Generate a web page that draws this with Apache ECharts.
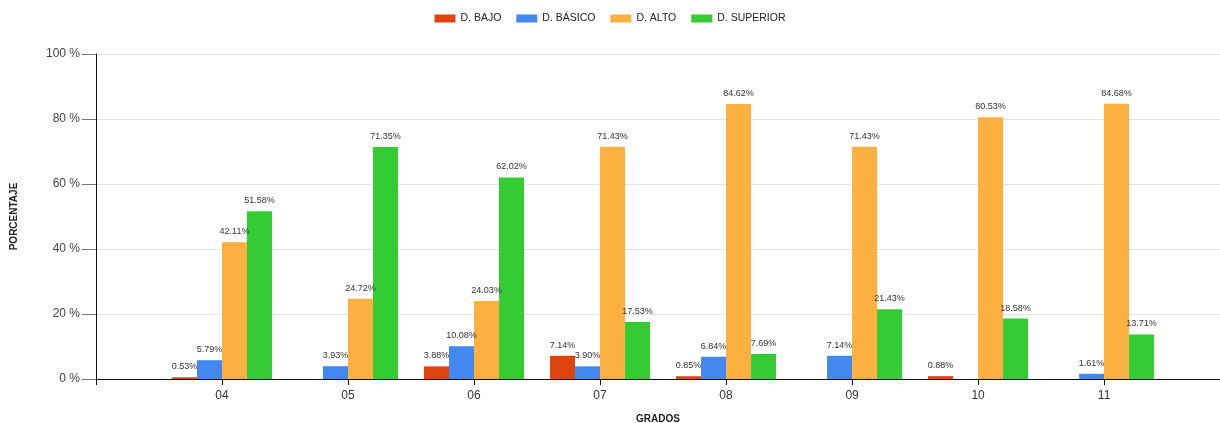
<!DOCTYPE html>
<html><head><meta charset="utf-8">
<script src="https://cdn.jsdelivr.net/npm/echarts@6/dist/echarts.min.js"></script>
<style>html,body{margin:0;padding:0;background:#fff}#c{width:1220px;height:423px}</style>
</head><body><div id="c"></div>
<script>
var categories = ['04','05','06','07','08','09','10','11'];
var seriesNames = ['D. BAJO','D. BÁSICO','D. ALTO','D. SUPERIOR'];
var bajo     = [0.53, null, 3.88, 7.14, 0.85, null, 0.88, null];
var basico   = [5.79, 3.93, 10.08, 3.90, 6.84, 7.14, null, 1.61];
var alto     = [42.11, 24.72, 24.03, 71.43, 84.62, 71.43, 80.53, 84.68];
var superior = [51.58, 71.35, 62.02, 17.53, 7.69, 21.43, 18.58, 13.71];
var yTicks = [0,20,40,60,80,100];
var colors = ['#E0440E','#4388F0','#FBB040','#33CC33'];
var FONT = 'Liberation Sans, Arial, sans-serif';

function toPairs(arr){
  var out=[];
  arr.forEach(function(v,i){ if(v!==null) out.push([i+1, v]); });
  return out;
}
var all=[bajo,basico,alto,superior];
var chart = echarts.init(document.getElementById('c'), null, {renderer:'canvas'});
chart.setOption({
  animation:false,
  textStyle:{fontFamily:FONT},
  color:colors,
  legend:{
    top:8, left:'center', itemWidth:21, itemHeight:8, itemGap:15,
    icon:'rect',
    textStyle:{fontSize:10.5, color:'#222', fontFamily:FONT},
    data:seriesNames
  },
  grid:{left:96, right:0, top:54, bottom:44, containLabel:false, outerBoundsMode:'none'},
  xAxis:{
    type:'value', min:0, max:8.92, interval:1,
    name:'GRADOS', nameLocation:'middle', nameGap:35,
    nameTextStyle:{fontWeight:'bold', fontSize:10, color:'#222', fontFamily:FONT},
    axisLine:{show:true, lineStyle:{color:'#111', width:1}},
    axisTick:{show:true, length:6, lineStyle:{color:'#111'}},
    axisLabel:{show:true, margin:11, fontSize:12, color:'#333', fontFamily:FONT,
      showMaxLabel:false,
      formatter:function(v){ var i=Math.round(v)-1; return (i>=0 && i<categories.length)?categories[i]:''; }},
    splitLine:{show:false}
  },
  yAxis:{
    type:'value', min:yTicks[0], max:yTicks[yTicks.length-1], interval:20,
    name:'PORCENTAJE', nameLocation:'middle', nameGap:77, nameRotate:90,
    nameTextStyle:{fontWeight:'bold', fontSize:10, color:'#222', fontFamily:FONT},
    axisLine:{show:true, lineStyle:{color:'#111', width:1}},
    axisTick:{show:true, length:14, lineStyle:{color:'#777'}},
    axisLabel:{margin:16, fontSize:12, color:'#444', fontFamily:FONT, formatter:'{value} %'},
    splitLine:{show:true, lineStyle:{color:'#e3e3e3', width:1}}
  },
  series: seriesNames.map(function(n,k){
    return {
      name:n, type:'bar', barWidth:25, barGap:'0%',
      data:toPairs(all[k]),
      itemStyle:{color:colors[k]},
      label:{show:true, position:'top', distance:6, fontSize:9, color:'#333', fontFamily:FONT,
        formatter:function(p){ return p.value[1].toFixed(2)+'%'; }}
    };
  })
});
</script></body></html>
